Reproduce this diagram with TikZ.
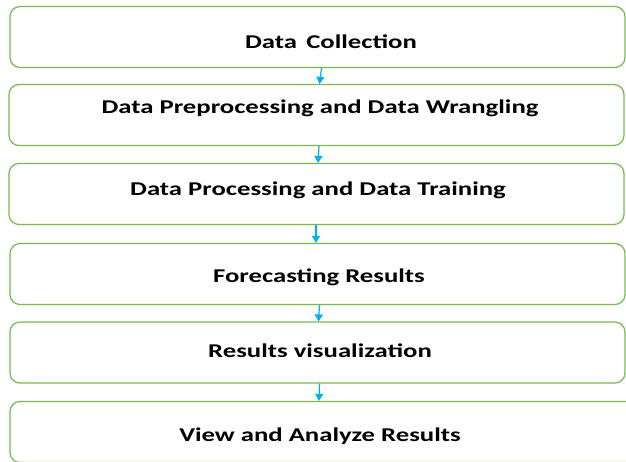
\documentclass[tikz,border=0pt]{standalone}
\usepackage{fontspec}
\setmainfont{Carlito}
\newfontfamily\stagefont[FakeStretch=1.37]{Carlito}
\usepackage{tikz}
\usetikzlibrary{positioning, shapes, arrows.meta, calc}
\definecolor{stagegreen}{RGB}{122,183,82}
\definecolor{arrowblue}{RGB}{0,176,240}

\begin{document}
\begin{tikzpicture}[
    x = 1pt, y = -1pt,
    every node/.style = {inner sep=0pt},
    stage/.style = {draw=stagegreen, line width=1.2pt, rounded corners=10pt,
                    minimum width=615pt, minimum height=61pt},
    caption/.style = {anchor=base, font=\stagefont\bfseries\fontsize{19.5}{22}\selectfont},
    arr/.style = {-{Triangle[length=7pt,width=8pt]}, draw=arrowblue, line width=1.2pt}
]
\useasboundingbox (0,0) rectangle (626,461);

% Stages
\node[stage] (collect) at (317.5,37) {};
\node[stage] (prep) at (316.5,115) {};
\node[stage] (proc) at (316.5,194) {};
\node[stage] (forecast) at (317.5,274) {};
\node[stage] (visual) at (317.5,352.5) {};
\node[stage, minimum width=640pt] (view) at (330,432) {};

% Captions
\node[caption] at (331,48) {Data\, Collection};
\node[caption] at (320,113) {Data Preprocessing and Data Wrangling};
\node[caption] at (318,195) {Data Processing and Data Training};
\node[caption] at (319,282) {Forecasting Results};
\node[caption] at (320,357) {Results visualization};
\node[caption] at (320,441) {View and Analyze Results};

% Flow
\draw[arr] ([xshift=4pt]collect.south) -- ([xshift=3pt]prep.north);
\draw[arr] ([xshift=2.5pt]prep.south) -- ([xshift=1.5pt]proc.north);
\draw[arr] ([xshift=-0.5pt]proc.south) -- ([xshift=-1.5pt]forecast.north);
\draw[arr] ([xshift=2pt]forecast.south) -- ([xshift=1pt]visual.north);
\draw[arr] ([xshift=2pt]visual.south) -- ([xshift=-11pt]view.north);

\end{tikzpicture}
\end{document}
